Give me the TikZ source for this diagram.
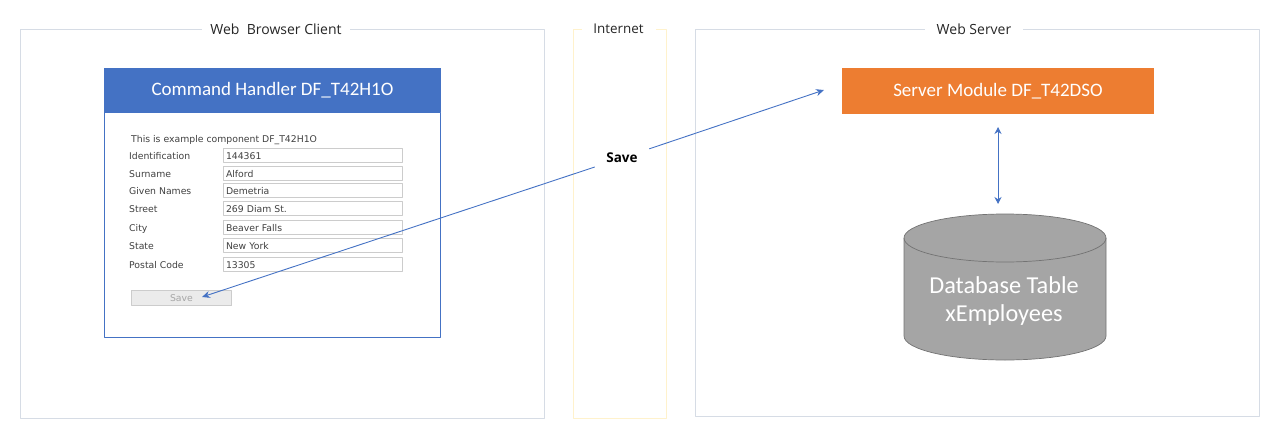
\documentclass[tikz,border=0pt]{standalone}
\usepackage{fontspec}
\usetikzlibrary{arrows.meta}
\setmainfont{Open Sans}
\newfontfamily\titlefont{Carlito}
\newfontfamily\formfont{DejaVu Sans}
\definecolor{framegrey}{HTML}{D6DCE5}
\definecolor{frameyellow}{HTML}{FFF2CC}
\definecolor{officeblue}{HTML}{4472C4}
\definecolor{officeorange}{HTML}{ED7D31}
\definecolor{dbgrey}{HTML}{A5A5A5}
\definecolor{formtext}{HTML}{404040}
\tikzset{
  zonetitle/.style={fill=white, inner sep=0pt, minimum height=12pt, font=\fontsize{14}{16}\selectfont, text=black!85},
  formlabel/.style={anchor=west, inner sep=0pt, text height=10pt, text depth=1.2pt, font=\formfont\fontsize{9.3}{11}\selectfont, text=formtext},
  formfield/.style={draw=black!20, line width=1pt, anchor=west, minimum width=179pt, minimum height=14pt, inner sep=0pt, text height=10pt, text depth=1.2pt, text=formtext, font=\formfont\fontsize{9.3}{11}\selectfont, text width=174pt, align=left},
  link/.style={officeblue, line width=0.9pt, -{Stealth[length=8pt,width=7pt]}}
}
\begin{document}
\begin{tikzpicture}[x=1pt, y=-1pt, line join=round, >=Stealth]
\useasboundingbox (0,0) rectangle (1280,434);
\path (202,297) coordinate (SaveTip)
(824,90) coordinate (ServerTip)
(998,127) coordinate (DbTop)
(998,204) coordinate (DbBottom);
% zones
\draw[framegrey, line width=0.9pt] (20,29) rectangle (544.5,418);
\draw[frameyellow, line width=0.9pt] (573,29) rectangle (666.5,418);
\draw[framegrey, line width=0.9pt] (695,29) rectangle (1259.5,416);
\node[zonetitle, minimum width=148pt] (browser) at (276,29) {Web\ \ Browser Client};
\node[zonetitle, minimum width=74pt, font=\fontsize{13.4}{16}\selectfont] (internet) at (618.5,29) {Internet};
\node[zonetitle, minimum width=98pt] (webserver) at (974,29) {Web Server};
% browser panel
\draw[officeblue, line width=0.9pt] (104.5,112) rectangle (440.5,337);
\node[fill=officeblue, text=white, minimum width=337pt, minimum height=44pt, inner sep=0pt, text height=15pt, text depth=4pt, font=\titlefont\fontsize{19}{22}\selectfont] (handler) at (272.5,90) {Command Handler DF\_T42H1O};
\node[formlabel] (intro) at (131,138.5) {This is example component DF\_T42H1O};
\foreach \rowy/\rowlabel/\rowvalue/\rowname in {
155.5/Identification/144361/id,
173.5/Surname/Alford/surname,
190.5/Given Names/Demetria/given,
208.5/Street/269 Diam St./street,
227/City/Beaver Falls/city,
245/State/New York/state,
264/Postal Code/13305/postal}
{
\node[formlabel] (label\rowname) at (129,\rowy) {\rowlabel};
\node[formfield] (field\rowname) at (223,\rowy) {\rowvalue};
}
\node[draw=black!20, fill=black!8, line width=1pt, minimum width=100pt, minimum height=15pt, inner sep=0pt, text=black!35, font=\formfont\fontsize{9.3}{11}\selectfont] (savebutton) at (181.5,298) {Save};
% server side
\node[fill=officeorange, text=white, minimum width=312pt, minimum height=46pt, inner sep=0pt, text height=15pt, text depth=4pt, font=\titlefont\fontsize{19}{22}\selectfont] (module) at (998,91) {Server Module DF\_T42DSO};
\draw[fill=dbgrey, draw=black!55, line width=0.7pt] (904,238) -- (904,336) arc[start angle=180, end angle=360, x radius=101pt, y radius=24pt] -- (1106,238) arc[start angle=0, end angle=180, x radius=101pt, y radius=24pt] -- cycle;
\draw[draw=black!55, line width=0.7pt] (904,238) arc[start angle=180, end angle=360, x radius=101pt, y radius=24pt];
\node[text=white, align=center, inner sep=0pt, font=\titlefont\fontsize{24.3}{28.5}\selectfont] (dbtable) at (1004,301) {Database Table\\xEmployees};
% connectors
\node[inner xsep=0pt, inner ysep=0pt, minimum width=54pt, minimum height=26pt, font=\bfseries\fontsize{13.5}{15}\selectfont] (savelabel) at (622,158) {Save};
\draw[link] (savelabel) -- (SaveTip);
\draw[link] (savelabel) -- (ServerTip);
\draw[link, {Stealth[length=7pt,width=7pt]}-{Stealth[length=7pt,width=7pt]}] (DbTop) -- (DbBottom);
\end{tikzpicture}
\end{document}
